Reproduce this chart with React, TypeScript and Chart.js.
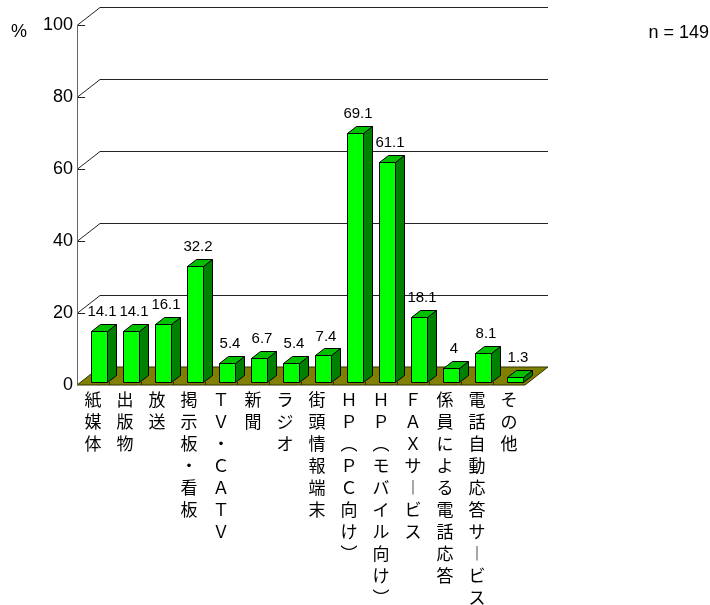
import React, { useEffect, useRef } from "react";
import { Chart, registerables } from "chart.js";

Chart.register(...registerables);

const categories = [
  "紙媒体",
  "出版物",
  "放送",
  "掲示板・看板",
  "ＴＶ・ＣＡＴＶ",
  "新聞",
  "ラジオ",
  "街頭情報端末",
  "ＨＰ（ＰＣ向け）",
  "ＨＰ（モバイル向け）",
  "ＦＡＸサービス",
  "係員による電話応答",
  "電話自動応答サービス",
  "その他",
];
const values = [14.1, 14.1, 16.1, 32.2, 5.4, 6.7, 5.4, 7.4, 69.1, 61.1, 18.1, 4, 8.1, 1.3];
const yTickValues = [0, 20, 40, 60, 80, 100];
const unitLabel = "%";
const sampleLabel = "n = 149";

const verticalForms: Record<string, string> = { "（": "︵", "）": "︶", "ー": "︱" };
const toVertical = (s: string) => Array.from(s).map((c) => verticalForms[c] || c);

// 3D geometry
const WALL_DX = 23;
const WALL_DY = -18;
const BAR_DX = 6;
const BAR_DY = -3;
const BAR_DEPTH_X = 9;
const BAR_DEPTH_Y = -7;

const threeD = {
  id: "threeD",
  beforeDatasetsDraw(chart: any) {
    const { ctx, chartArea } = chart;
    const y = chart.scales.y;
    const left = chartArea.left;
    const right = chartArea.right;
    const y0 = y.getPixelForValue(0);
    ctx.save();
    ctx.lineWidth = 1;
    ctx.strokeStyle = "#222";
    yTickValues.forEach((v) => {
      const py = Math.round(y.getPixelForValue(v)) + 0.5;
      if (v > 0) {
        ctx.beginPath();
        ctx.moveTo(left + WALL_DX, py + WALL_DY);
        ctx.lineTo(right + WALL_DX, py + WALL_DY);
        ctx.stroke();
        ctx.beginPath();
        ctx.moveTo(left, py);
        ctx.lineTo(left + WALL_DX, py + WALL_DY);
        ctx.stroke();
        ctx.beginPath();
        ctx.moveTo(left, py);
        ctx.lineTo(left + 8, py);
        ctx.stroke();
      }
    });
    // floor
    ctx.beginPath();
    ctx.moveTo(left, y0);
    ctx.lineTo(right, y0);
    ctx.lineTo(right + WALL_DX, y0 + WALL_DY);
    ctx.lineTo(left + WALL_DX, y0 + WALL_DY);
    ctx.closePath();
    ctx.fillStyle = "#808000";
    ctx.fill();
    ctx.strokeStyle = "#303000";
    ctx.stroke();
    for (let i = 1; i < categories.length; i++) {
      const px = Math.round(left + ((right - left) * i) / categories.length) + 0.5;
      ctx.beginPath();
      ctx.moveTo(px, y0 + BAR_DY);
      ctx.lineTo(px, y0);
      ctx.stroke();
    }
    ctx.restore();
  },
  afterDatasetsDraw(chart: any) {
    const { ctx, chartArea } = chart;
    const y = chart.scales.y;
    const meta = chart.getDatasetMeta(0);
    ctx.save();
    ctx.lineWidth = 1;
    ctx.strokeStyle = "#000";
    meta.data.forEach((el: any) => {
      const p = el.getProps(["x", "y", "base", "width"], true);
      const l = Math.round(p.x - p.width / 2 + BAR_DX) + 0.5;
      const r = Math.round(p.x + p.width / 2 + BAR_DX) + 0.5;
      const t = Math.round(p.y + BAR_DY) + 0.5;
      const b = Math.round(p.base + BAR_DY) + 0.5;
      ctx.beginPath();
      ctx.moveTo(r, b);
      ctx.lineTo(r + BAR_DEPTH_X, b + BAR_DEPTH_Y);
      ctx.lineTo(r + BAR_DEPTH_X, t + BAR_DEPTH_Y);
      ctx.lineTo(r, t);
      ctx.closePath();
      ctx.fillStyle = "#008000";
      ctx.fill();
      ctx.stroke();
      ctx.beginPath();
      ctx.moveTo(l, t);
      ctx.lineTo(l + BAR_DEPTH_X, t + BAR_DEPTH_Y);
      ctx.lineTo(r + BAR_DEPTH_X, t + BAR_DEPTH_Y);
      ctx.lineTo(r, t);
      ctx.closePath();
      ctx.fillStyle = "#00c000";
      ctx.fill();
      ctx.stroke();
      ctx.beginPath();
      ctx.rect(l, t, r - l, b - t);
      ctx.fillStyle = "#00ff00";
      ctx.fill();
      ctx.stroke();
    });
    // y axis line
    const ax = Math.round(chartArea.left) + 0.5;
    ctx.strokeStyle = "#666";
    ctx.beginPath();
    ctx.moveTo(ax, Math.round(y.getPixelForValue(100)));
    ctx.lineTo(ax, Math.round(y.getPixelForValue(0)));
    ctx.stroke();

    ctx.fillStyle = "#000";
    ctx.font = "15px 'Liberation Sans', Arial, sans-serif";
    ctx.textAlign = "center";
    ctx.textBaseline = "middle";
    meta.data.forEach((el: any, i: number) => {
      const p = el.getProps(["x", "y"], true);
      ctx.fillText(String(values[i]), p.x + BAR_DX + 3, p.y + BAR_DY - 19);
    });
    ctx.font = "18px 'Liberation Sans', Arial, sans-serif";
    ctx.textAlign = "left";
    ctx.fillText(unitLabel, 11, 32);
    ctx.textAlign = "right";
    ctx.fillText(sampleLabel, 709, 33);
    ctx.restore();
  },
};

export default function App() {
  const ref = useRef<HTMLCanvasElement>(null);
  useEffect(() => {
    if (!ref.current) return;
    const chart = new Chart(ref.current, {
      type: "bar",
      data: {
        labels: categories,
        datasets: [
          {
            data: values,
            backgroundColor: "rgba(0,0,0,0)",
            borderWidth: 0,
            categoryPercentage: 1,
            barPercentage: 0.47,
          },
        ],
      },
      options: {
        animation: false,
        responsive: false,
        maintainAspectRatio: false,
        layout: { padding: { left: 0, top: 25, right: 185, bottom: 0 } },
        plugins: { legend: { display: false }, tooltip: { enabled: false } },
        scales: {
          x: {
            grid: { display: false, drawTicks: false },
            border: { display: false },
            ticks: {
              autoSkip: false,
              maxRotation: 0,
              minRotation: 0,
              padding: 4,
              color: "#000",
              font: { family: "'Noto Sans CJK JP', sans-serif", size: 17, lineHeight: "22px" },
              callback: (_v: any, i: number) => toVertical(categories[i]),
            },
            afterFit: (s: any) => {
              s.height = 220;
            },
          },
          y: {
            min: 0,
            max: 100,
            grid: { display: false, drawTicks: false },
            border: { display: false },
            ticks: {
              stepSize: 20,
              padding: 4,
              color: "#000",
              font: { family: "'Liberation Sans', Arial, sans-serif", size: 18 },
            },
            afterFit: (s: any) => {
              s.width = 77;
            },
          },
        },
      },
      plugins: [threeD],
    });
    return () => chart.destroy();
  }, []);
  return (
    <div style={{ position: "fixed", left: 0, top: 0, width: 710, height: 605, background: "#fff" }}>
      <canvas ref={ref} width={710} height={605} style={{ width: 710, height: 605 }} />
    </div>
  );
}
